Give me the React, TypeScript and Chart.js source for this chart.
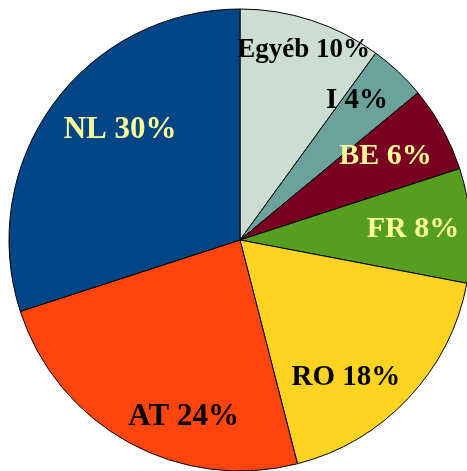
import React, { useEffect, useRef } from "react";
import { Chart, registerables } from "chart.js";

Chart.register(...registerables);

const categories = ["Egyéb", "I", "BE", "FR", "RO", "AT", "NL"];
const shares = [10, 4, 6, 8, 18, 24, 30];
const sliceColors = ["#CCDDD2", "#6BA39C", "#7A0022", "#559E1E", "#FFD322", "#FF440D", "#004585"];
const labelColors = ["#000000", "#000000", "#FFFF99", "#FFFF99", "#000000", "#000000", "#FFFF99"];
const labelSizes = [27, 29, 30, 30, 29, 31, 31];
// label anchor: angle (deg clockwise from top) and radius fraction
const labelAngles = [18.3, 39.5, 59.4, 85.7, 141.9, 197.9, 313];
const labelRadii = [0.877, 0.796, 0.732, 0.751, 0.743, 0.794, 0.71];

const labelPlugin = {
  id: "sliceLabels",
  afterDatasetsDraw(chart: any) {
    const meta = chart.getDatasetMeta(0);
    const ctx = chart.ctx;
    ctx.save();
    meta.data.forEach((arc: any, i: number) => {
      const { x, y, outerRadius } = arc.getProps(["x", "y", "outerRadius"], true);
      const a = (labelAngles[i] * Math.PI) / 180;
      const r = outerRadius * labelRadii[i];
      const px = x + r * Math.sin(a);
      const py = y - r * Math.cos(a);
      const size = labelSizes[i];
      ctx.font = `bold ${size}px "Liberation Serif", "Times New Roman", serif`;
      ctx.fillStyle = labelColors[i];
      ctx.textAlign = "center";
      ctx.textBaseline = "alphabetic";
      ctx.fillText(`${categories[i]} ${shares[i]}%`, px, py + size * 0.33);
    });
    ctx.restore();
  },
};

export default function App() {
  const ref = useRef<HTMLCanvasElement | null>(null);
  useEffect(() => {
    if (!ref.current) return;
    const chart = new Chart(ref.current, {
      type: "pie",
      data: {
        labels: categories,
        datasets: [
          {
            data: shares,
            backgroundColor: sliceColors,
            borderColor: "#000000",
            borderWidth: 1,
            hoverOffset: 0,
          },
        ],
      },
      options: {
        responsive: false,
        animation: false,
        radius: 231,
        layout: { padding: 0 },
        plugins: {
          legend: { display: false },
          tooltip: { enabled: false },
        },
      } as any,
      plugins: [labelPlugin],
    });
    return () => chart.destroy();
  }, []);
  return (
    <div
      style={{
        position: "fixed",
        left: 0,
        top: 0,
        width: 467,
        height: 471,
        overflow: "hidden",
        background: "#ffffff",
      }}
    >
      <canvas ref={ref} width={480} height={480} style={{ width: 480, height: 480, display: "block" }} />
    </div>
  );
}
